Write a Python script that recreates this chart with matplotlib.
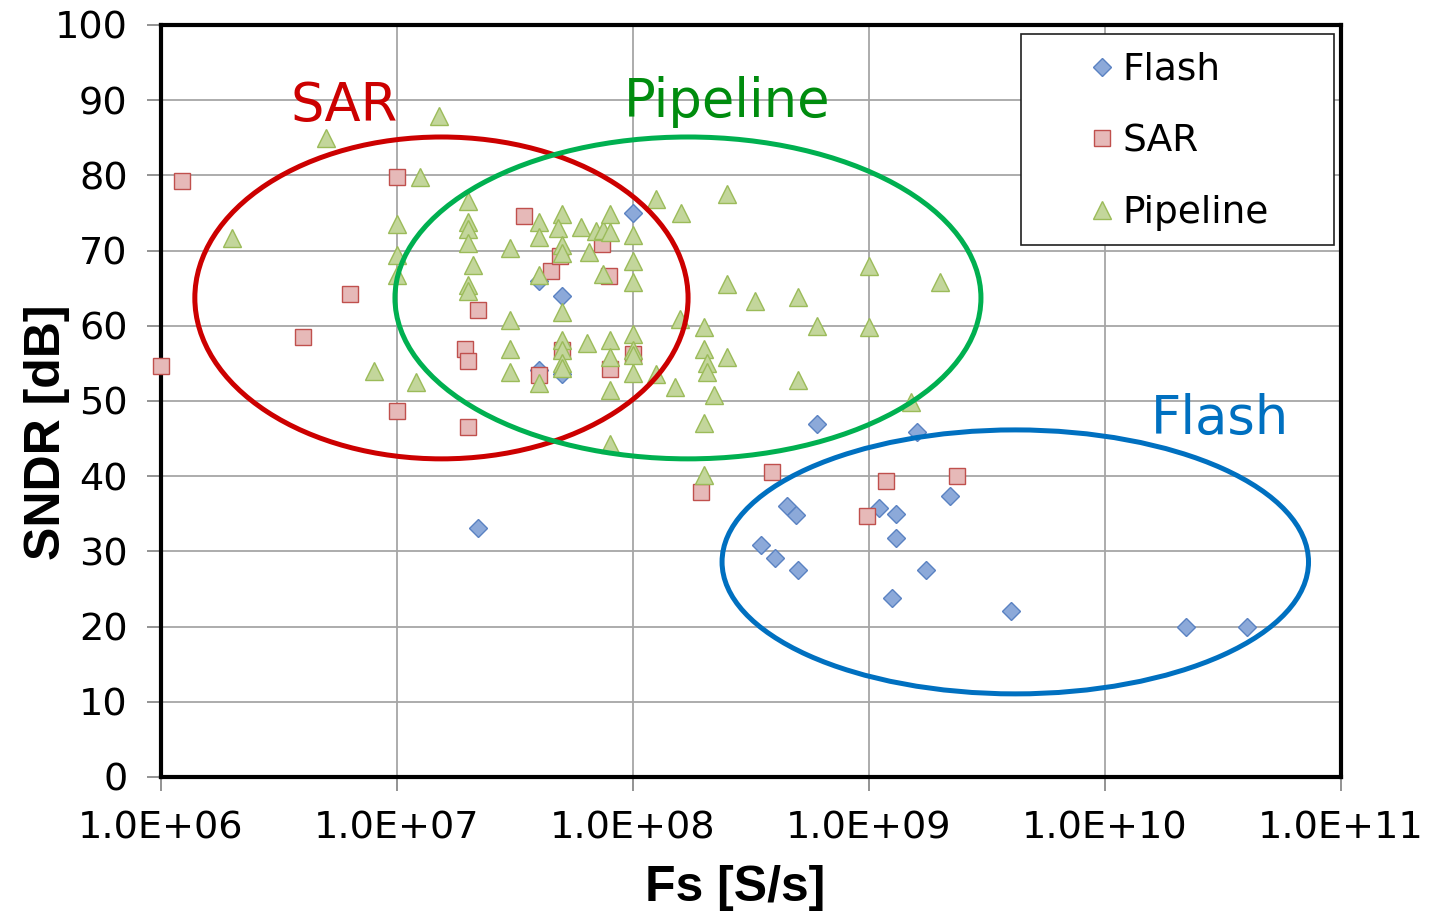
import matplotlib
matplotlib.use("Agg")
import matplotlib.pyplot as plt
import numpy as np
from matplotlib.patches import Ellipse, Rectangle

# Datos: frecuencia de muestreo [S/s] y SNDR [dB]
flash_fs = [2.2e7, 4e7, 4e7, 5e7, 5e7, 1e8, 6e8, 1.6e9, 3.5e8, 4e8, 4.5e8,
            4.9e8, 5e8, 1.1e9, 1.3e9, 1.3e9, 1.25e9, 1.75e9, 2.2e9, 4e9,
            2.2e10, 4e10]
flash_sndr = [33.1, 66.0, 54.1, 64.0, 53.6, 75.0, 46.9, 45.9, 30.9, 29.1, 36.0,
              34.8, 27.5, 35.8, 35.0, 31.8, 23.8, 27.5, 37.4, 22.1,
              20.0, 20.0]

sar_fs = [1e6, 1.23e6, 4e6, 6.3e6, 1e7, 1e7, 1.95e7, 2e7, 2e7, 2.2e7,
          3.45e7, 4.5e7, 4.9e7, 5e7, 4e7, 7.4e7, 7.9e7, 8e7, 1e8,
          1.95e8, 3.9e8, 9.8e8, 1.18e9, 2.35e9]
sar_sndr = [54.7, 79.3, 58.5, 64.2, 79.8, 48.7, 56.9, 55.3, 46.5, 62.1,
            74.6, 67.3, 69.3, 56.8, 53.5, 70.9, 66.6, 54.3, 56.3,
            37.9, 40.6, 34.7, 39.4, 40.0]

pipe_fs = [2e6, 5e6, 1.5e7, 1.25e7, 1e7, 1e7, 1e7, 8e6, 1.2e7,
           2e7, 2e7, 2e7, 2e7, 2.1e7, 2e7, 2e7,
           3e7, 3e7, 3e7, 3e7, 4e7, 4e7, 4e7, 4e7,
           5e7, 4.8e7, 5e7, 5e7, 5e7, 5e7, 5e7, 5e7, 5e7,
           6e7, 7e7, 7.5e7, 8e7, 8e7, 6.5e7, 7.5e7, 6.4e7, 8e7, 8e7, 8e7, 8e7,
           1e8, 1e8, 1e8, 1e8, 1e8, 1e8, 1e8,
           1.25e8, 1.25e8, 1.5e8, 1.58e8, 1.6e8,
           2e8, 2e8, 2.06e8, 2.06e8, 2.2e8, 2e8, 2e8,
           2.5e8, 2.5e8, 2.5e8, 3.3e8, 5e8, 5e8, 6e8,
           1e9, 1e9, 1.5e9, 2e9]
pipe_sndr = [71.7, 85.0, 87.9, 79.8, 73.5, 69.4, 66.8, 54.0, 52.5,
             76.6, 73.8, 72.9, 71.0, 68.1, 65.4, 64.6,
             70.3, 60.8, 56.9, 53.9, 73.8, 71.8, 66.8, 52.4,
             74.9, 73.0, 70.7, 69.7, 61.8, 58.1, 56.8, 55.1, 54.4,
             73.1, 72.6, 72.7, 74.9, 72.5, 69.8, 66.9, 57.7, 58.1, 55.9, 51.5, 44.3,
             72.1, 68.6, 65.8, 58.9, 56.8, 56.1, 53.7,
             76.9, 53.6, 51.9, 60.9, 75.0,
             59.8, 56.9, 55.1, 53.9, 50.8, 47.1, 40.2,
             77.5, 65.6, 55.9, 63.3, 63.8, 52.8, 60.0,
             68.0, 59.8, 49.9, 65.8]

x_ticks = [1e6, 1e7, 1e8, 1e9, 1e10, 1e11]
x_tick_labels = ["1.0E+06", "1.0E+07", "1.0E+08", "1.0E+09", "1.0E+10", "1.0E+11"]
y_ticks = list(range(0, 101, 10))

fig = plt.figure(figsize=(14.45, 9.17), dpi=100)
ax = fig.add_axes([0.1114, 0.1527, 0.8166, 0.8201])

ax.set_xscale("log")
ax.set_xlim(1e6, 1e11)
ax.set_ylim(0, 100)

ax.plot(flash_fs, flash_sndr, linestyle="none", marker="D", markersize=9.5,
        markerfacecolor="#8CA9D9", markeredgecolor="#5A82C2", markeredgewidth=1.0,
        label="Flash", clip_on=False, zorder=4)
ax.plot(sar_fs, sar_sndr, linestyle="none", marker="s", markersize=11,
        markerfacecolor="#E6B9B8", markeredgecolor="#C0504D", markeredgewidth=1.0,
        label="SAR", clip_on=False, zorder=4)
ax.plot(pipe_fs, pipe_sndr, linestyle="none", marker="^", markersize=13,
        markerfacecolor="#C3D69B", markeredgecolor="#9BBB59", markeredgewidth=1.0,
        label="Pipeline", clip_on=False, zorder=4)

# elipses de agrupacion
ax.add_patch(Ellipse((0.2377, 0.637), 0.418, 0.428, transform=ax.transAxes,
                     fill=False, edgecolor="#CC0000", linewidth=3.6, zorder=5))
ax.add_patch(Ellipse((0.4466, 0.637), 0.4966, 0.428, transform=ax.transAxes,
                     fill=False, edgecolor="#00B050", linewidth=3.6, zorder=5))
ax.add_patch(Ellipse((0.724, 0.286), 0.497, 0.351, transform=ax.transAxes,
                     fill=False, edgecolor="#0070C0", linewidth=3.6, zorder=5))

ax.text(0.155, 0.892, "SAR", transform=ax.transAxes, color="#CC0000",
        fontsize=38, ha="center", va="center", zorder=6)
ax.text(0.4797, 0.898, "Pipeline", transform=ax.transAxes, color="#008C0E",
        fontsize=38, ha="center", va="center", zorder=6)
ax.text(0.8975, 0.4767, "Flash", transform=ax.transAxes, color="#0070C0",
        fontsize=38, ha="center", va="center", zorder=6)

ax.set_xticks(x_ticks)
ax.set_xticklabels(x_tick_labels)
ax.set_xticks([], minor=True)
ax.set_yticks(y_ticks)
ax.tick_params(axis="both", labelsize=27.5, direction="out", color="#808080",
               width=1.2, length=10, pad=14)
ax.grid(True, which="major", color="#A6A6A6", linewidth=1.3)
ax.set_axisbelow(True)

for sp in ax.spines.values():
    sp.set_linewidth(3)
    sp.set_color("black")

ax.set_xlabel("Fs [S/s]", fontsize=36, fontweight="bold", family="Liberation Sans")
ax.set_ylabel("SNDR [dB]", fontsize=36, fontweight="bold", family="Liberation Sans")
ax.xaxis.label.set_va("center")
ax.yaxis.label.set_va("center")
ax.xaxis.set_label_coords(0.4864, -0.1476)
ax.yaxis.set_label_coords(-0.097, 0.4588)

# leyenda
ax.add_patch(Rectangle((0.7288, 0.7074), 0.2653, 0.2806, transform=ax.transAxes,
                       facecolor="white", edgecolor="#202020", linewidth=1.2, zorder=6))
leg = ax.legend(loc="center left", bbox_to_anchor=(0.7814, 0.845), frameon=False,
                fontsize=27, handlelength=1.0, handletextpad=0.05, labelspacing=0.95,
                borderpad=0, borderaxespad=0, numpoints=1, markerscale=1.0)
leg.set_zorder(7)

fig.savefig("out.png", dpi=100)
